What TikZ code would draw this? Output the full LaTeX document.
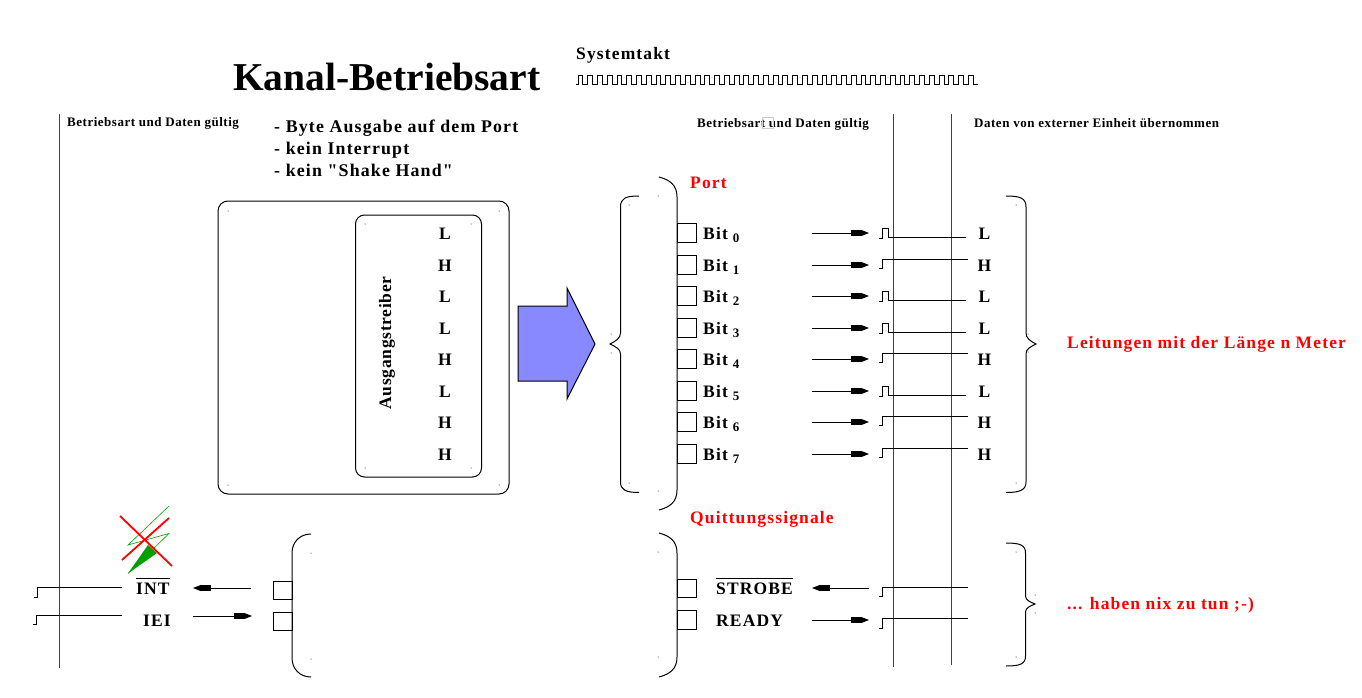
\documentclass[tikz,border=0pt]{standalone}
\usepackage{fontspec}
\setmainfont{Liberation Serif}
\newfontfamily\spaced[LetterSpace=6.5]{Liberation Serif}
\newfontfamily\spacedsm[LetterSpace=4]{Liberation Serif}
\usetikzlibrary{arrows.meta,positioning,calc}
\definecolor{wirered}{RGB}{218,0,0}
\definecolor{zapgreen}{RGB}{0,160,0}
\definecolor{arrowblue}{RGB}{136,136,255}
\tikzset{
txt/.style={inner sep=0pt,anchor=base west,font=\spaced\bfseries\fontsize{17.5}{19}\selectfont},
modetxt/.style={inner sep=0pt,anchor=base west,font=\spaced\bfseries\fontsize{17.85}{19}\selectfont},
small/.style={inner sep=0pt,anchor=base west,font=\spacedsm\bfseries\fontsize{13}{15}\selectfont},
redtxt/.style={txt,text=red},
lev/.style={inner sep=0pt,anchor=base,font=\bfseries\fontsize{17.5}{19}\selectfont},
pin/.style={draw,line width=1pt,outer sep=0pt,minimum width=19.5pt,minimum height=18.5pt,inner sep=0pt,anchor=west},
sig/.style={line width=1pt},
arr/.style={line width=1pt,-{Square[length=10pt,width=6pt] . Triangle[length=8pt,width=6pt]}},
clock/.style={line width=1pt},
guide/.style={wirered,line width=1pt},
brace/.style={line width=1pt},
speck/.style={fill=black}
}
\begin{document}
\begin{tikzpicture}[x=1pt,y=-1pt]
\useasboundingbox (0,0) rectangle (1362,698);
\node[inner sep=0pt,anchor=base west,font=\bfseries\fontsize{39.5}{41}\selectfont] (Title) at (233,91) {Kanal-Betriebsart};
\node[txt] (Takt) at (576,60) {Systemtakt};
% clock line
\coordinate (Clk) at (576,85);
\draw[clock] (Clk) -- ++(2,0)
\foreach \k in {1,...,41} { -- ++(0,-9) -- ++(4.88,0) -- ++(0,9) -- ++(4.88,0) } ;
\node[small] (GoodL) at (67,127) {Betriebsart und Daten gültig};
\node[small] (GoodR) at (697,128) {Betriebsart und Daten gültig};
\node[small] (Taken) at (974,128) {Daten von externer Einheit übernommen};
\draw[gray!40] (762,117) rectangle (773,128);
\node[modetxt] (Mode1) at (274,132) {- Byte Ausgabe auf dem Port};
\node[modetxt] (Mode2) at (274,154) {- kein Interrupt};
\node[modetxt] (Mode3) at (274,176) {- kein "Shake Hand"};
% time marks
\coordinate (TopA) at (59,114);
\coordinate (BotA) at (59,668);
\coordinate (TopB) at (893,114);
\coordinate (BotB) at (893,667);
\coordinate (TopC) at (951,114);
\coordinate (BotC) at (951,665);
\draw[guide] (TopA)--(BotA);
\draw[guide] (TopB)--(BotB);
\draw[guide] (TopC)--(BotC);
% chip
\node[draw,line width=1pt,rounded corners=10pt,minimum width=291pt,minimum height=293pt,outer sep=0pt,inner sep=0pt,anchor=north west] (Chip) at (218,201) {};
\node[draw,line width=1pt,rounded corners=9pt,minimum width=126pt,minimum height=262pt,outer sep=0pt,inner sep=0pt,anchor=north west] (Driver) at (355.5,215) {};
\node[inner sep=0pt,rotate=90,font=\spacedsm\bfseries\fontsize{17.5}{19}\selectfont] (DrvLab) at (387,343) {Ausgangstreiber};
\draw[line width=1pt,fill=arrowblue] (518,306)--(567,306)--(567,288)--(595,344)--(567,399)--(567,381)--(518,381)--cycle;
% braces
\draw[brace] (639,196)..controls (626,196) and (620.5,198)..(620.5,207)--(620.5,333)..controls (620.5,338) and (616,341)..(610,344)
..controls (616,347) and (620.5,349)..(620.5,354)--(620.5,482)..controls (620.5,490) and (626,492.5)..(639,492.5);
\draw[brace] (1006,196)..controls (1020,196) and (1026,198)..(1026,207)--(1026,333)..controls (1026,338) and (1030,341)..(1036,344)
..controls (1030,347) and (1026,349)..(1026,354)--(1026,482)..controls (1026,490) and (1020,492.5)..(1006,492.5);
\draw[brace] (659,177)..controls (670,180) and (677,185)..(677,197)--(677,490)..controls (677,502) and (670,507)..(659,510);
\draw[brace] (659,533)..controls (670,536) and (677,541)..(677,553)--(677,657)..controls (677,669) and (670,674)..(659,677);
\draw[brace] (311,534)..controls (300,534) and (292,542)..(292,553)--(292,658)..controls (292,669) and (300,677)..(311,677);
\draw[brace] (1006,543)..controls (1020,543) and (1025.5,545)..(1025.5,553)--(1025.5,596)..controls (1025.5,600) and (1030,602)..(1035,604)
..controls (1030,606) and (1025.5,608)..(1025.5,612)--(1025.5,656)..controls (1025.5,664) and (1020,666)..(1006,666);
% corner specks
\foreach \p in {(228,211),(499,211),(228,485),(499,485),(365,224),(471,224),(365,468),(471,468),
(629,205),(658,196),(1016,205),(611,334),(1028,334),(611,353),(1028,352),(629,483),(1016,483),(658,491),
(658,552),(658,657),(1016,552),(1016,657),(1035,595),(1035,613),(311,553),(311,659)}
\fill[speck] \p circle (.5pt);
\node[redtxt] (Port) at (690,188) {Port};
\node[redtxt] (Quit) at (690,523) {Quittungssignale};
\node[redtxt] (Lines) at (1067,348) {Leitungen mit der Länge n Meter};
\node[redtxt] (Nix) at (1067,609) {... haben nix zu tun ;-)};
% bits
\foreach \i/\y in {0/233,1/265,2/296,3/328,4/359,5/391,6/422,7/454}{
\node[pin] (Pin\i) at (677,\y) {};
\node[txt] (Bit\i) at (703,\y+6) {Bit\hspace{5pt}\raisebox{-3.5pt}{\fontsize{13}{13}\selectfont\i}};
\coordinate (ArrA\i) at (812,\y);
\coordinate (ArrB\i) at (869,\y);
\draw[arr] (ArrA\i)--(ArrB\i);
}
% low bits pulse, high bits step
\foreach \i/\y in {0/233,2/296,3/328,5/391}{
\node[lev] (Drv\i) at (445,\y+6) {L};
\node[lev] (Lev\i) at (984.5,\y+6) {L};
\coordinate (Sig\i) at (879,\y+5);
\coordinate (End\i) at (966,\y+4.5);
\draw[sig] (Sig\i)--++(3,0)--++(0,-10)--++(6,0)--++(0,9.5)--(End\i);
}
\foreach \i/\y in {1/265,4/359,6/422,7/454}{
\node[lev] (Drv\i) at (445,\y+6) {H};
\node[lev] (Lev\i) at (984.5,\y+6) {H};
\coordinate (Sig\i) at (879,\y+3);
\coordinate (End\i) at (968,\y-6);
\draw[sig] (Sig\i)--++(3,0)--++(0,-9)--(End\i);
}
% handshake right
\node[pin] (PinS) at (677,588.5) {};
\node[pin] (PinR) at (677,620) {};
\node[txt] (Strobe) at (716,594) {$\overline{\hbox{\rule{0pt}{14.5pt}STROBE}}$};
\node[txt] (Ready) at (716,626) {READY};
\coordinate (StrA) at (869,588);
\coordinate (StrB) at (812,588);
\coordinate (ReaA) at (812,620);
\coordinate (ReaB) at (869,620);
\draw[arr] (StrA)--(StrB);
\draw[arr] (ReaA)--(ReaB);
\coordinate (SigS) at (879,596);
\coordinate (EndS) at (968,587);
\coordinate (SigR) at (879,628);
\coordinate (EndR) at (968,618);
\draw[sig] (SigS)--++(3,0)--++(0,-9)--(EndS);
\draw[sig] (SigR)--++(3,0)--++(0,-10)--(EndR);
% handshake left
\node[pin,anchor=east,minimum width=19pt] (PinI) at (292,590.5) {};
\node[pin,anchor=east,minimum width=19pt] (PinE) at (292,621.5) {};
\node[txt] (Int) at (136,594) {$\overline{\hbox{\rule{0pt}{14.5pt}INT}}$};
\node[txt] (Iei) at (143,626) {IEI};
\coordinate (IntA) at (251,588);
\coordinate (IntB) at (193,588);
\coordinate (IeiA) at (193,616);
\coordinate (IeiB) at (252,616);
\draw[arr] (IntA)--(IntB);
\draw[arr] (IeiA)--(IeiB);
\coordinate (SigI) at (34,597);
\coordinate (EndI) at (122,587);
\coordinate (SigE) at (33,624);
\coordinate (EndE) at (122,615);
\draw[sig] (SigI)--++(3,0)--++(0,-10)--(EndI);
\draw[sig] (SigE)--++(3,0)--++(0,-9)--(EndE);
% crossed out flash
\draw[zapgreen,line width=.6pt] (169,506)--(128,545)--(169,533.5)--(128,573.5);
\fill[zapgreen] (128,573.5)--(148,545)--(157,553)--cycle;
\draw[red,line width=1.8pt] (120,516)--(172,566);
\draw[red,line width=1.8pt] (169,518)--(122,560);
\end{tikzpicture}
\end{document}
